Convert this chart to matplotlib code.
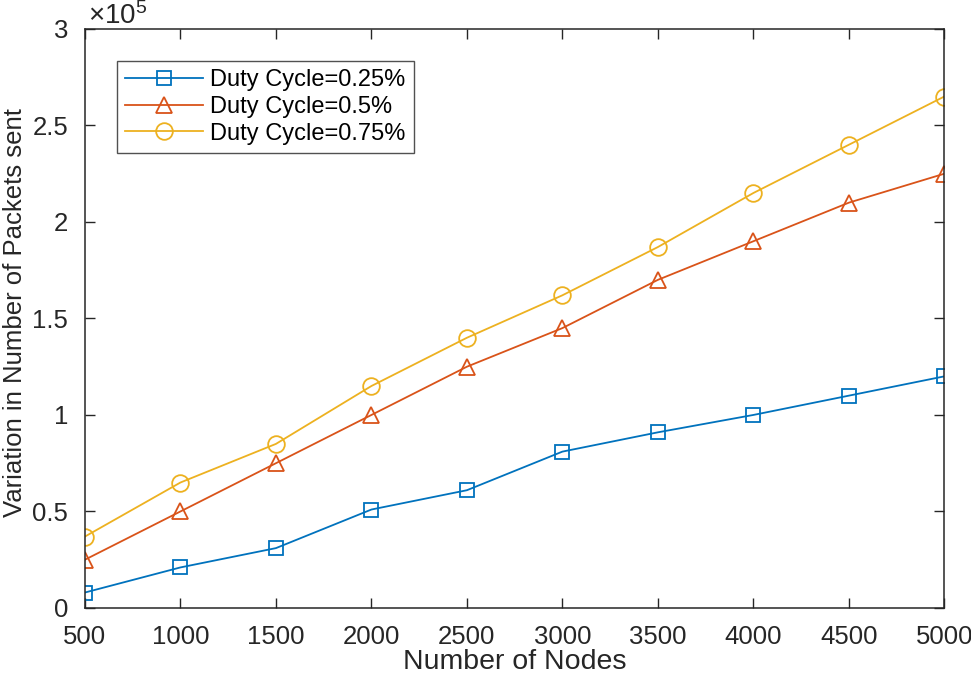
import matplotlib
matplotlib.use('Agg')
import matplotlib.pyplot as plt

plt.rcParams['font.family'] = ['Liberation Sans', 'DejaVu Sans']
plt.rcParams['mathtext.fontset'] = 'custom'
plt.rcParams['mathtext.rm'] = 'Liberation Sans'

# Daten
nodes = [500, 1000, 1500, 2000, 2500, 3000, 3500, 4000, 4500, 5000]
dc_025 = [8000, 21000, 31000, 51000, 61000, 81000, 91000, 100000, 110000, 120000]
dc_05 = [25000, 50000, 75000, 100000, 125000, 145000, 170000, 190000, 210000, 225000]
dc_075 = [37000, 65000, 85000, 115000, 140000, 162000, 187000, 215000, 240000, 265000]
labels = ['Duty Cycle=0.25%', 'Duty Cycle=0.5%', 'Duty Cycle=0.75%']

dark = '#262626'
fig = plt.figure(figsize=(9.71, 6.74), dpi=100)
ax = fig.add_axes([0.0875, 0.098, 0.885, 0.859])

scale = 1e5
ax.plot(nodes, [v / scale for v in dc_025], '-s', color='#0072BD', lw=1.3,
        ms=10, mfc='none', mew=1.3, label=labels[0])
ax.plot(nodes, [v / scale for v in dc_05], '-^', color='#D95319', lw=1.3,
        ms=12, mfc='none', mew=1.3, label=labels[1])
ax.plot(nodes, [v / scale for v in dc_075], '-o', color='#EDB120', lw=1.3,
        ms=12, mfc='none', mew=1.3, label=labels[2])

ax.set_xlim(500, 5000)
ax.set_ylim(0, 3)
ax.set_xticks(nodes)
ax.set_yticks([0, 0.5, 1, 1.5, 2, 2.5, 3])
ax.set_yticklabels(['0', '0.5', '1', '1.5', '2', '2.5', '3'])
ax.tick_params(direction='in', top=True, right=True, length=7, width=1,
               colors=dark, labelsize=18.5, pad=12)
for s in ax.spines.values():
    s.set_color(dark)
    s.set_linewidth(1.1)

ax.set_xlabel('Number of Nodes', fontsize=20.5, color=dark, labelpad=0)
ax.set_ylabel('Variation in Number of Packets sent', fontsize=18.5, color=dark)
ax.yaxis.set_label_coords(-0.068, 0.51)
ax.text(0.003, 1.008, r'$\times\mathregular{10^5}$', transform=ax.transAxes, fontsize=20,
        color=dark, ha='left', va='baseline')

leg = ax.legend(loc='upper left', bbox_to_anchor=(0.037, 0.945), fontsize=17,
                frameon=True, fancybox=False, edgecolor=dark, borderpad=0.35,
                handlelength=3.3, handletextpad=0.3, labelspacing=0.2,
                borderaxespad=0)
leg.get_frame().set_linewidth(1.0)

fig.savefig('out.png', dpi=100)
